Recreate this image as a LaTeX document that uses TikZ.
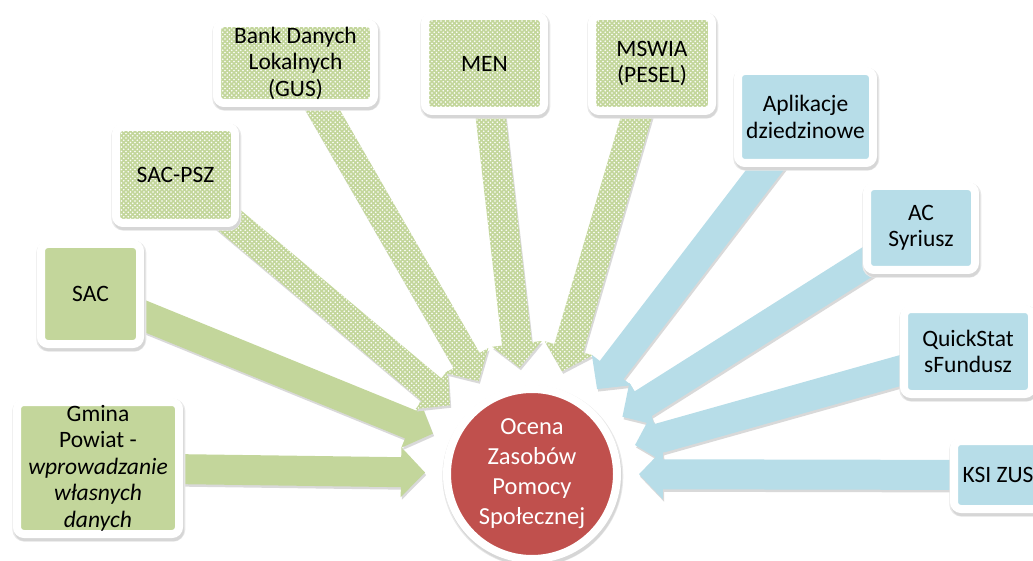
\documentclass[tikz,border=0pt]{standalone}
\usepackage{fontspec}
\setmainfont{Carlito}
\usetikzlibrary{calc,patterns,backgrounds}

\definecolor{zielony}{RGB}{195,214,155}
\definecolor{niebieski}{RGB}{183,221,232}
\definecolor{czerwony}{RGB}{192,80,77}

\pgfdeclarepatternformonly{kropki}{\pgfpoint{-1pt}{-1pt}}{\pgfpoint{3.5pt}{3.5pt}}{\pgfpoint{4.5pt}{4.5pt}}{%
    \pgfpathcircle{\pgfpoint{0pt}{0pt}}{0.95pt}
    \pgfpathcircle{\pgfpoint{2.25pt}{2.25pt}}{0.95pt}
    \pgfusepath{fill}}

\tikzset{
    cien/.style={preaction={draw=black!9, fill=black!9, line width=11pt, transform canvas={shift={(0.8pt,-2.2pt)}}},
        preaction={draw=black!16, fill=black!16, line width=8pt, transform canvas={shift={(1.2pt,-3.2pt)}}}},
    cienstrzalki/.style={preaction={fill=black!15, transform canvas={shift={(1.2pt,-2.5pt)}}}},
    wzor/.style={postaction={pattern=kropki, pattern color=white}},
    pole/.style={rectangle, rounded corners=7pt, draw=white, line width=8pt, inner sep=0pt, align=center, font=\fontsize{23.5}{26.5}\selectfont, cien},
    polezielone/.style={pole, fill=zielony},
    polewzor/.style={pole, fill=zielony, wzor},
    poleniebieskie/.style={pole, fill=niebieski},
    strzalkazielona/.style={fill=zielony, cienstrzalki},
    strzalkawzor/.style={fill=zielony, cienstrzalki, wzor},
    strzalkaniebieska/.style={fill=niebieski, cienstrzalki}
}

\newcommand{\strzalka}[2]{%
    \coordinate (sb) at ($(ozps.center)!131pt!(#2.center)$);
    \coordinate (sk) at ($(ozps.center)!107pt!(#2.center)$);
    \path[#1] ($(#2.center)!15pt!90:(sk)$) -- ($(sb)!15pt!-90:(#2.center)$) -- ($(sb)!25pt!-90:(#2.center)$) -- (sk)
        -- ($(sb)!25pt!90:(#2.center)$) -- ($(sb)!15pt!90:(#2.center)$) -- ($(#2.center)!15pt!-90:(sk)$) -- cycle;
}

\begin{document}
\begin{tikzpicture}[x=1pt, y=-1pt]
    \useasboundingbox (0,0) rectangle (1033,561);
    \node[polezielone, minimum width=162pt, minimum height=132pt] (gmina) at (98, 468) {Gmina\\Powiat -\\\textit{wprowadzanie}\\\textit{własnych}\\\textit{danych}};
    \node[polezielone, minimum width=99pt, minimum height=100pt] (sac) at (90.5, 294) {SAC};
    \node[polewzor, minimum width=119pt, minimum height=96pt] (sacpsz) at (175.5, 175) {SAC-PSZ};
    \node[polewzor, minimum width=157pt, minimum height=80pt] (bdl) at (295.5, 63) {Bank Danych\\Lokalnych\\(GUS)};
    \node[polewzor, minimum width=119pt, minimum height=95pt] (men) at (484.5, 63.5) {MEN};
    \node[polewzor, minimum width=120pt, minimum height=95pt] (mswia) at (652, 63.5) {MSWIA\\(PESEL)};
    \node[poleniebieskie, minimum width=135pt, minimum height=92pt] (apl) at (805.5, 117) {Aplikacje\\dziedzinowe};
    \node[poleniebieskie, minimum width=108pt, minimum height=84pt] (acs) at (921, 228) {AC\\Syriusz};
    \node[poleniebieskie, minimum width=128pt, minimum height=85pt] (qs) at (968, 351.5) {QuickStat\\sFundusz};
    \node[poleniebieskie, minimum width=88pt, minimum height=68pt] (ksi) at (998, 475) {KSI ZUS};
    \node[circle, fill=czerwony, draw=white, line width=8pt, minimum size=170pt, inner sep=0pt, cien, text=white, align=center, font=\fontsize{24.5}{30}\selectfont] (ozps) at (532, 474) {Ocena\\Zasobów\\Pomocy\\Społecznej};
    \begin{scope}[on background layer]
        \strzalka{strzalkazielona}{gmina}
        \strzalka{strzalkazielona}{sac}
        \strzalka{strzalkawzor}{sacpsz}
        \strzalka{strzalkawzor}{bdl}
        \strzalka{strzalkawzor}{men}
        \strzalka{strzalkawzor}{mswia}
        \strzalka{strzalkaniebieska}{apl}
        \strzalka{strzalkaniebieska}{acs}
        \strzalka{strzalkaniebieska}{qs}
        \strzalka{strzalkaniebieska}{ksi}
    \end{scope}
\end{tikzpicture}
\end{document}
